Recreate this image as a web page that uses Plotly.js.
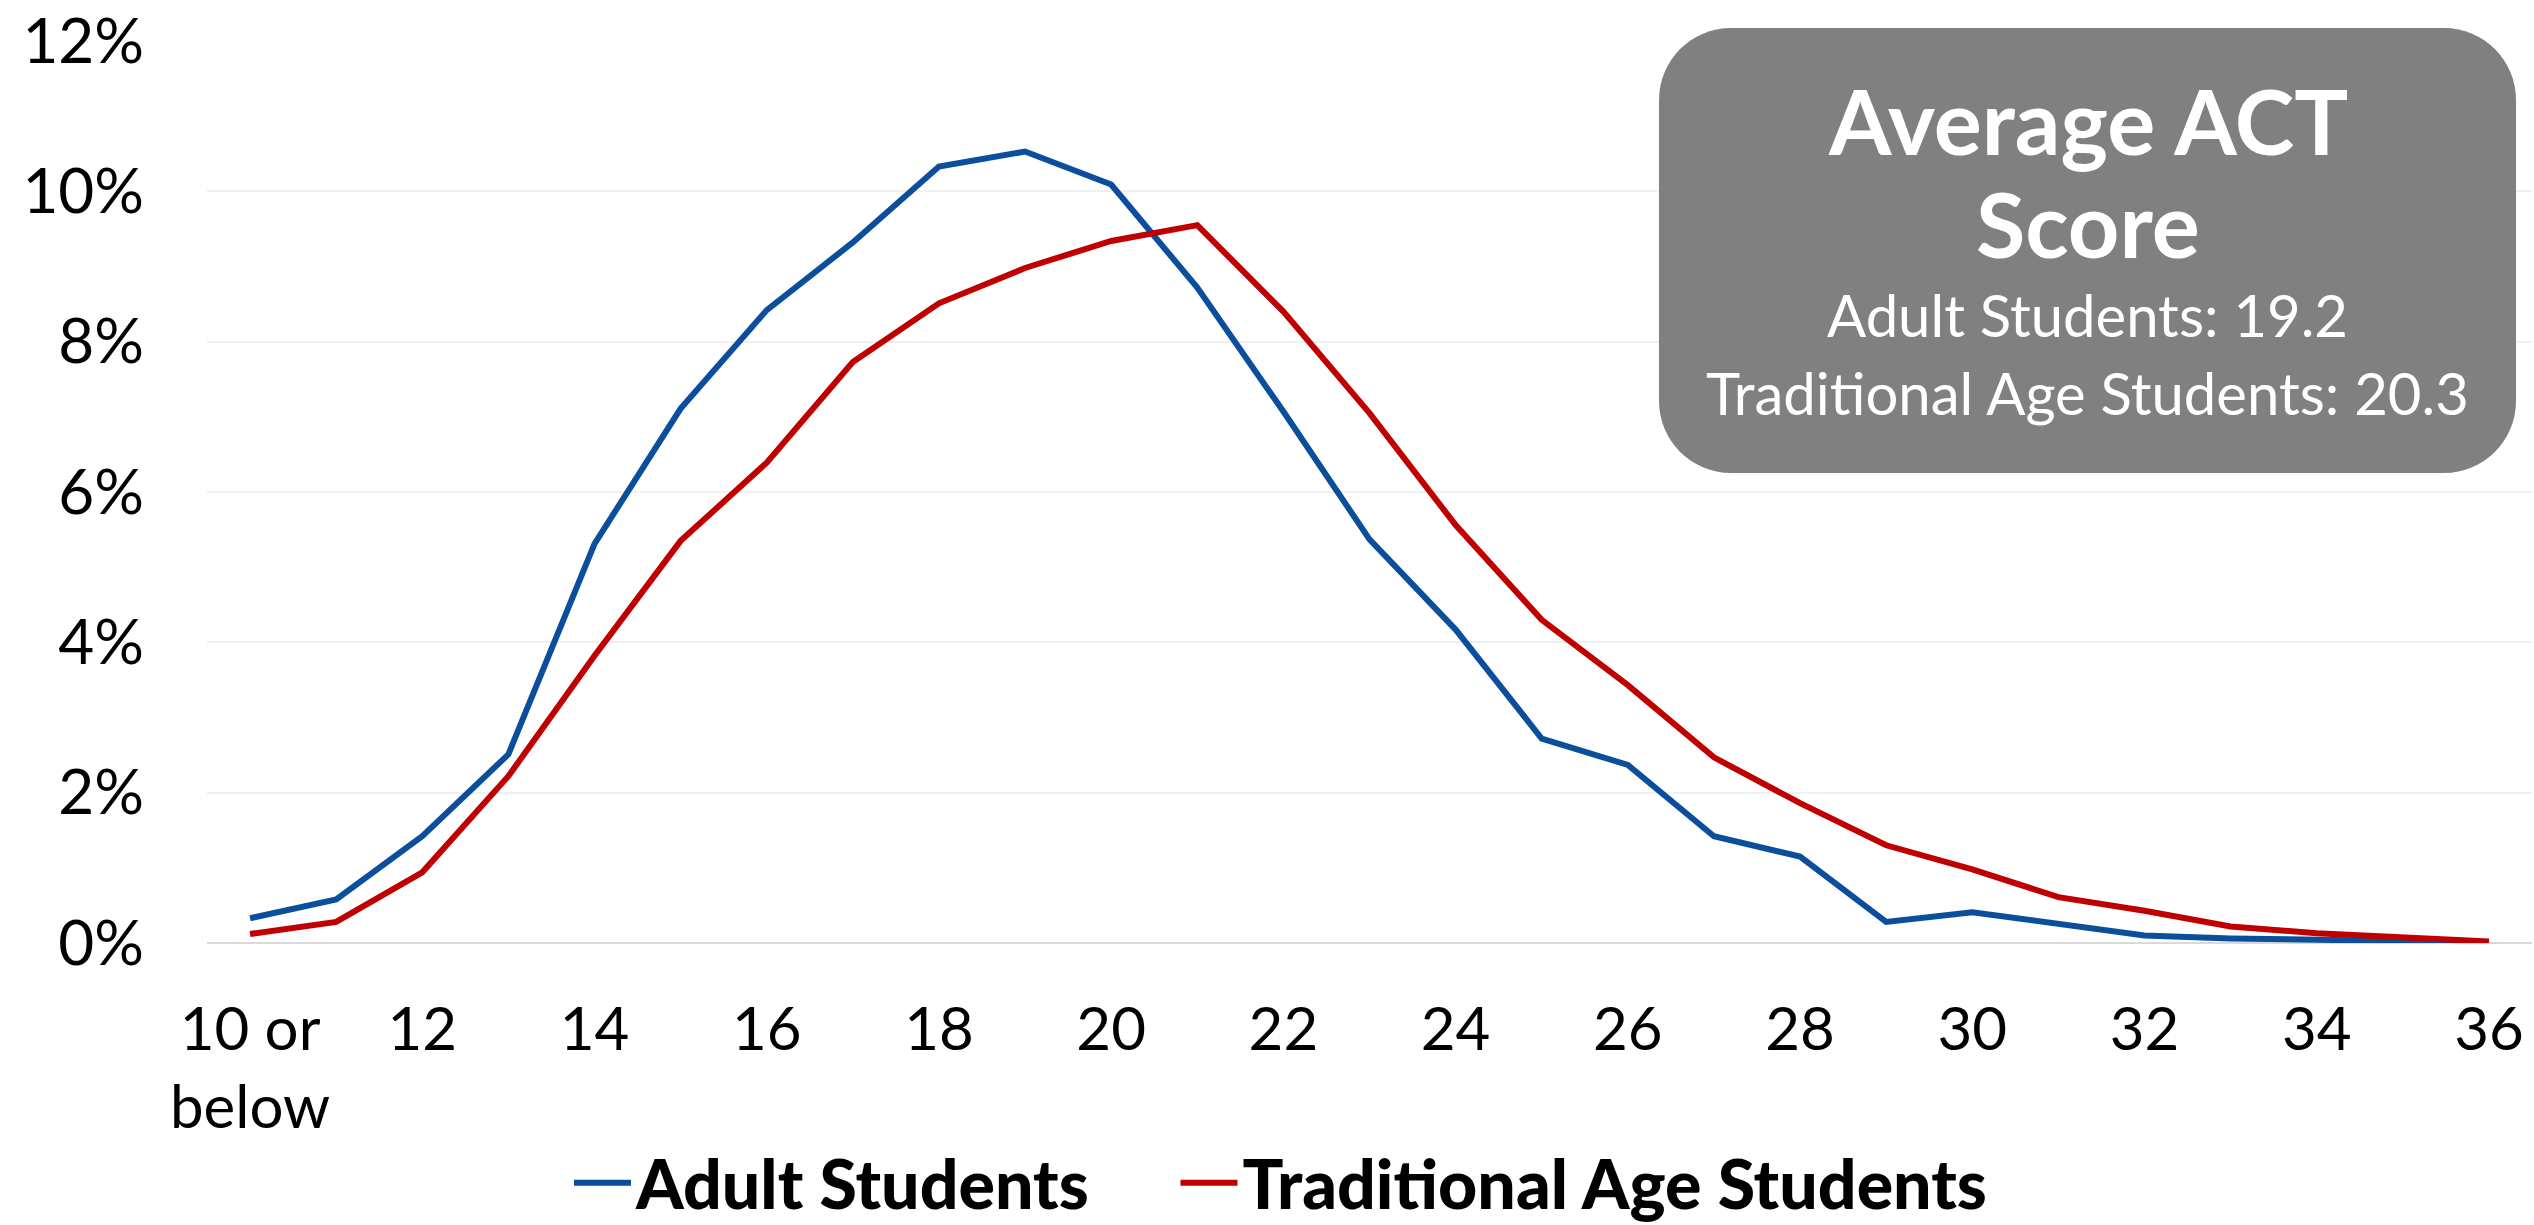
<!DOCTYPE html>
<html>
<head>
<meta charset="utf-8">
<script src="https://cdn.plot.ly/plotly-3.0.1.min.js"></script>
<style>html,body{margin:0;padding:0;background:#fff;}#chart{width:2534px;height:1225px;}</style>
</head>
<body>
<div id="chart"></div>
<script>
// ---- data ----
const categories = ["10 or below","11","12","13","14","15","16","17","18","19","20","21","22","23","24","25","26","27","28","29","30","31","32","33","34","35","36"];
const adultStudents = [0.33,0.58,1.42,2.51,5.31,7.11,8.42,9.32,10.33,10.53,10.09,8.72,7.07,5.37,4.17,2.72,2.37,1.42,1.15,0.28,0.41,0.26,0.10,0.06,0.04,0.02,0.01];
const traditionalAgeStudents = [0.12,0.28,0.94,2.22,3.82,5.35,6.39,7.73,8.51,8.98,9.34,9.55,8.40,7.05,5.56,4.30,3.43,2.47,1.86,1.30,0.98,0.61,0.43,0.22,0.13,0.07,0.02];
const tickCategories = ["10 or below","12","14","16","18","20","22","24","26","28","30","32","34","36"];
const tickLabels = ["10 or<br>below","12","14","16","18","20","22","24","26","28","30","32","34","36"];
const yTicks = [0,2,4,6,8,10,12];
const yTickLabels = ["0%","2%","4%","6%","8%","10%","12%"];
const seriesNames = ["Adult Students","Traditional Age Students"];
const boxTitle = ["Average ACT","Score"];
const boxLines = ["Adult Students: 19.2","Traditional Age Students: 20.3"];

// ---- layout geometry (pixels) ----
const W = 2534, H = 1225;
const L = 207, R = 2532, T = 41, B = 943;
const px = x => (x - L) / (R - L);
const py = y => (B - y) / (B - T);

const bx0 = 1659, bx1 = 2516, by0 = 28, by1 = 473, r = 72, k = 0.5523 * r;
const P = (x, y) => px(x).toFixed(5) + ',' + py(y).toFixed(5);
const boxPath =
  'M' + P(bx0 + r, by0) +
  ' L' + P(bx1 - r, by0) +
  ' C' + P(bx1 - r + k, by0) + ' ' + P(bx1, by0 + r - k) + ' ' + P(bx1, by0 + r) +
  ' L' + P(bx1, by1 - r) +
  ' C' + P(bx1, by1 - r + k) + ' ' + P(bx1 - r + k, by1) + ' ' + P(bx1 - r, by1) +
  ' L' + P(bx0 + r, by1) +
  ' C' + P(bx0 + r - k, by1) + ' ' + P(bx0, by1 - r + k) + ' ' + P(bx0, by1 - r) +
  ' L' + P(bx0, by0 + r) +
  ' C' + P(bx0, by0 + r - k) + ' ' + P(bx0 + r - k, by0) + ' ' + P(bx0 + r, by0) + ' Z';

const FONT = 'Lato, "Open Sans", sans-serif';
const cx = (bx0 + bx1) / 2;
const GAP = '\u00a0'.repeat(5);

const traces = [
  {x: categories, y: adultStudents, type: 'scatter', mode: 'lines', name: seriesNames[0] + GAP,
   line: {color: '#0B4F9C', width: 6}},
  {x: categories, y: traditionalAgeStudents, type: 'scatter', mode: 'lines', name: seriesNames[1],
   line: {color: '#C00000', width: 6}}
];

const layout = {
  width: W, height: H,
  margin: {l: L, r: W - R, t: T, b: H - B, pad: 0, autoexpand: false},
  paper_bgcolor: '#ffffff', plot_bgcolor: '#ffffff',
  font: {family: FONT, size: 60, color: '#000000'},
  showlegend: true,
  xaxis: {
    type: 'category', categoryorder: 'array', categoryarray: categories,
    range: [-0.5, categories.length - 0.5],
    tickmode: 'array', tickvals: tickCategories, ticktext: tickLabels,
    showgrid: false, zeroline: false, showline: false,
    ticks: '', ticklabelstandoff: 46, automargin: false,
    tickfont: {family: FONT, size: 60, color: '#000'}
  },
  yaxis: {
    range: [0, 12], tickmode: 'array', tickvals: yTicks, ticktext: yTickLabels,
    showgrid: true, gridcolor: '#F0F0F0', gridwidth: 2,
    zeroline: true, zerolinecolor: '#D9D9D9', zerolinewidth: 2,
    showline: false, ticks: '', ticklabelstandoff: 62, automargin: false,
    tickfont: {family: FONT, size: 62, color: '#000'}
  },
  legend: {
    orientation: 'h', xref: 'paper', yref: 'paper',
    x: px(569), xanchor: 'left', y: py(1183), yanchor: 'middle',
    itemwidth: 57,
    font: {family: FONT, size: 68, color: '#000', weight: 900},
    bgcolor: 'rgba(0,0,0,0)'
  },
  shapes: [
    {type: 'path', xref: 'paper', yref: 'paper', path: boxPath,
     fillcolor: '#808080', line: {width: 0}, layer: 'above'}
  ],
  annotations: [
    {xref: 'paper', yref: 'paper', x: px(cx), y: py(120), xanchor: 'center', yanchor: 'middle',
     text: '<b>' + boxTitle[0] + '</b>', showarrow: false,
     font: {family: FONT, size: 90, color: '#ffffff'}},
    {xref: 'paper', yref: 'paper', x: px(cx), y: py(223), xanchor: 'center', yanchor: 'middle',
     text: '<b>' + boxTitle[1] + '</b>', showarrow: false,
     font: {family: FONT, size: 90, color: '#ffffff'}},
    {xref: 'paper', yref: 'paper', x: px(cx), y: py(315), xanchor: 'center', yanchor: 'middle',
     text: boxLines[0], showarrow: false,
     font: {family: FONT, size: 58, color: '#ffffff'}},
    {xref: 'paper', yref: 'paper', x: px(cx), y: py(392), xanchor: 'center', yanchor: 'middle',
     text: boxLines[1], showarrow: false,
     font: {family: FONT, size: 58, color: '#ffffff'}}
  ]
};

Plotly.newPlot('chart', traces, layout, {displayModeBar: false, staticPlot: true});
</script>
</body>
</html>
